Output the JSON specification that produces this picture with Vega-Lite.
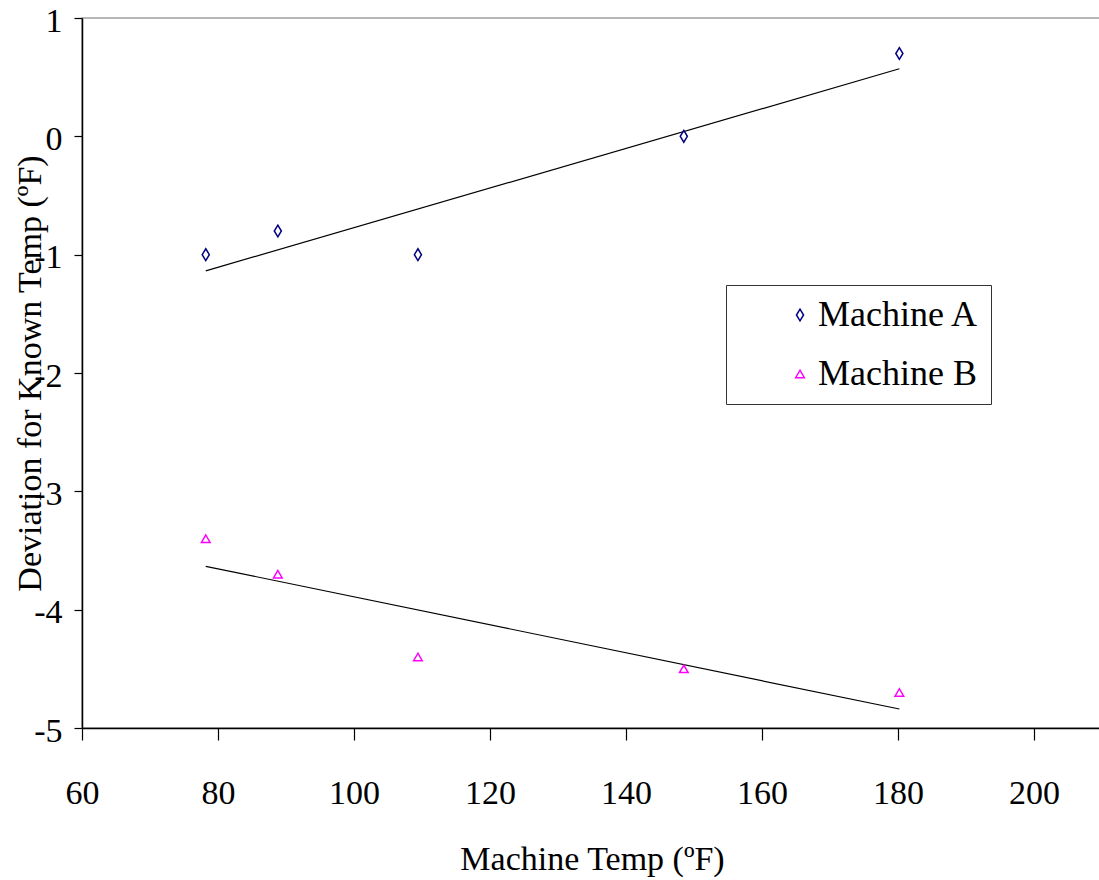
{
  "$schema": "https://vega.github.io/schema/vega-lite/v6.json",
  "width": 1020,
  "height": 710,
  "autosize": {"type": "none"},
  "padding": {"left": 82, "top": 18, "right": 0, "bottom": 152},
  "background": "white",
  "config": {
    "font": "Liberation Serif",
    "view": {"stroke": "#a0a0a0", "strokeWidth": 1.5},
    "axis": {"grid": false, "domainColor": "black", "domainWidth": 1.5, "tickColor": "black", "tickWidth": 1.2, "labelColor": "black", "titleColor": "black", "labelFont": "Liberation Serif", "titleFont": "Liberation Serif", "titleFontWeight": "normal"},
    "legend": {"labelFont": "Liberation Serif"}
  },
  "data": {
    "values": [
      {"temp": 78.2, "dev": -1.0, "machine": "Machine A"},
      {"temp": 88.8, "dev": -0.8, "machine": "Machine A"},
      {"temp": 109.4, "dev": -1.0, "machine": "Machine A"},
      {"temp": 148.5, "dev": 0.0, "machine": "Machine A"},
      {"temp": 180.2, "dev": 0.7, "machine": "Machine A"},
      {"temp": 78.2, "dev": -3.4, "machine": "Machine B"},
      {"temp": 88.8, "dev": -3.7, "machine": "Machine B"},
      {"temp": 109.4, "dev": -4.4, "machine": "Machine B"},
      {"temp": 148.5, "dev": -4.5, "machine": "Machine B"},
      {"temp": 180.2, "dev": -4.7, "machine": "Machine B"}
    ]
  },
  "layer": [
    {
      "transform": [{"regression": "dev", "on": "temp", "groupby": ["machine"]}],
      "mark": {"type": "line", "color": "black", "strokeWidth": 1.2},
      "encoding": {
        "x": {"field": "temp", "type": "quantitative"},
        "y": {"field": "dev", "type": "quantitative"},
        "detail": {"field": "machine"}
      }
    },
    {
      "mark": {"type": "point", "filled": false, "strokeWidth": 1.5, "opacity": 1},
      "encoding": {
        "x": {
          "field": "temp", "type": "quantitative",
          "scale": {"domain": [60, 210], "nice": false, "zero": false},
          "axis": {"values": [60, 80, 100, 120, 140, 160, 180, 200], "labelExpr": "'' + datum.value", "labelFlush": false, "tickSize": 12, "labelFontSize": 34, "labelPadding": 36, "title": "Machine Temp (ºF)", "titleFontSize": 34, "titlePadding": 32}
        },
        "y": {
          "field": "dev", "type": "quantitative",
          "scale": {"domain": [-5, 1], "nice": false, "zero": false},
          "axis": {"values": [1, 0, -1, -2, -3, -4, -5], "labelExpr": "'' + datum.value", "labelFlush": false, "tickSize": 8, "labelFontSize": 34, "labelPadding": 12, "labelOffset": 3, "title": "Deviation for Known Temp (ºF)", "titleFontSize": 34, "titleX": -52, "titleBaseline": "middle"}
        },
        "color": {
          "field": "machine", "type": "nominal",
          "scale": {"domain": ["Machine A", "Machine B"], "range": ["#000080", "#ff00ff"]},
          "legend": {"title": null, "orient": "none", "legendX": 644, "legendY": 267, "labelFontSize": 36, "labelLimit": 400, "labelColor": "black", "strokeColor": "#333333", "fillColor": "white", "padding": 12, "rowPadding": 23, "symbolOffset": 44, "labelOffset": 0, "symbolStrokeWidth": 1.5, "symbolSize": 110}
        },
        "shape": {
          "field": "machine", "type": "nominal",
          "scale": {"domain": ["Machine A", "Machine B"], "range": ["M0,-1L0.6,0L0,1L-0.6,0Z", "triangle-up"]},
          "legend": null
        },
        "size": {
          "field": "machine", "type": "nominal",
          "scale": {"domain": ["Machine A", "Machine B"], "range": [140, 75]},
          "legend": null
        }
      }
    }
  ]
}
